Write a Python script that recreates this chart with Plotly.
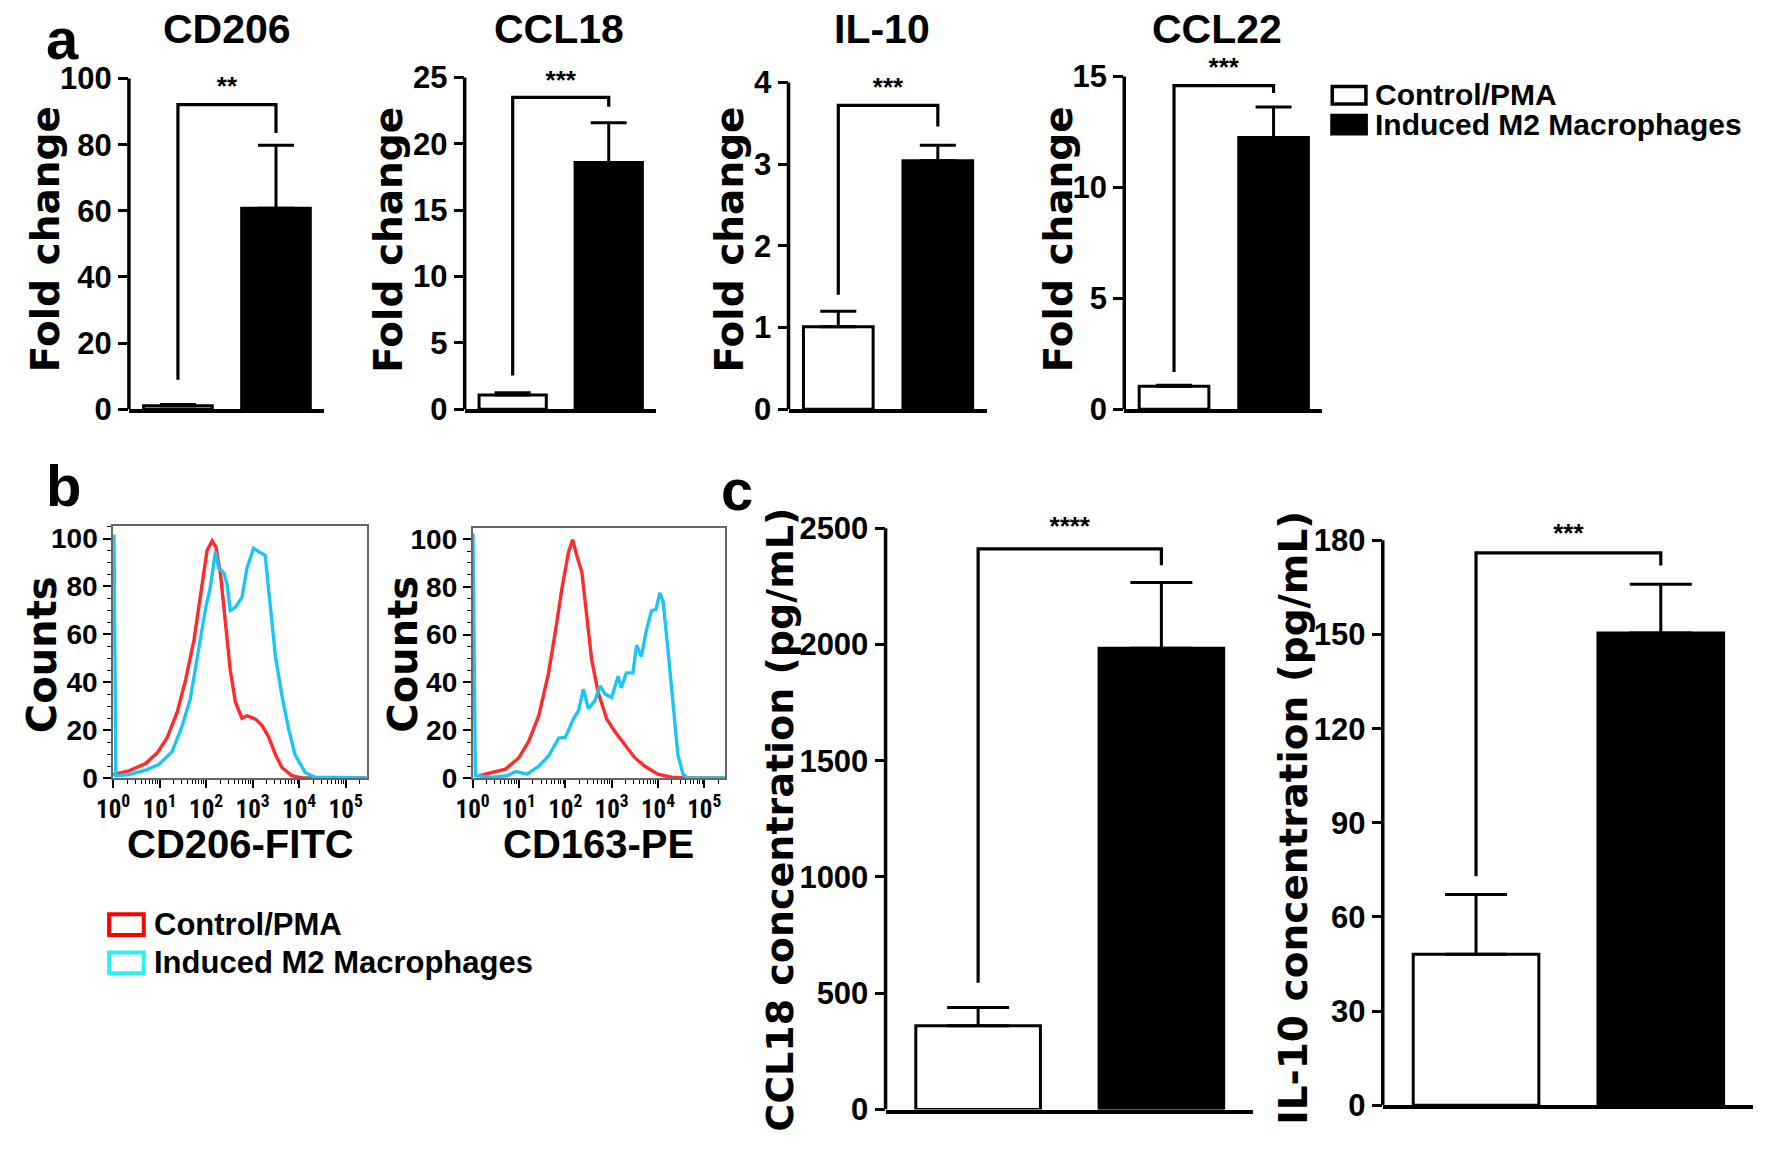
import numpy as np
import plotly.graph_objects as go

W, H = 1769, 1156

# ---------------- data ----------------
groups = ["Control/PMA", "Induced M2 Macrophages"]

# panel a: qPCR fold change
qpcr_genes = ["CD206", "CCL18", "IL-10", "CCL22"]
qpcr_mean_control = [1.0, 1.06, 1.01, 1.03]
qpcr_mean_m2 = [60.8, 18.6, 3.04, 12.25]
qpcr_sem_control = [0.4, 0.17, 0.19, 0.05]
qpcr_sem_m2 = [19.0, 3.0, 0.19, 1.38]
qpcr_ymax = [100, 25, 4, 15]
qpcr_ystep = [20, 5, 1, 5]
qpcr_sig = ["**", "***", "***", "***"]
qpcr_bracket_top = [92.1, 23.5, 3.72, 14.59]
qpcr_bracket_left = [8.9, 2.54, 1.40, 1.67]
qpcr_bracket_right = [83.5, 22.8, 3.46, 14.26]
qpcr_star_y = [97.0, 24.6, 3.92, 15.3]

# panel c: ELISA concentrations
elisa_names = ["CCL18 concentration (pg/mL)", "IL-10 concentration (pg/mL)"]
elisa_mean_control = [360, 48.1]
elisa_mean_m2 = [1983, 150.5]
elisa_sem_control = [79, 19.1]
elisa_sem_m2 = [283, 15.5]
elisa_ymax = [2500, 180]
elisa_ystep = [500, 30]
elisa_sig = ["****", "***"]
elisa_bracket_top = [2411, 176.0]
elisa_bracket_left = [545, 73.0]
elisa_bracket_right = [2340, 172.0]
elisa_star_y = [2500, 181.5]

# panel b: flow cytometry histograms (x = log10 fluorescence, y = % of max counts)
hist_names = ["CD206-FITC", "CD163-PE"]
cd206_ctrl_log = [0.0, 0.04, 0.34, 0.7, 0.95, 1.16, 1.38, 1.56, 1.74, 1.88, 2.02, 2.13, 2.21,
                  2.31, 2.41, 2.52, 2.63, 2.77, 2.88, 3.06, 3.2, 3.34, 3.49, 3.63, 3.84, 4.06, 5.45]
cd206_ctrl_cnt = [1.5, 1.6, 3, 6, 10.5, 16.7, 27.6, 41, 57.7, 76.8, 95, 99, 96.6,
                  85, 67, 45, 31.7, 25, 26, 24.6, 22, 17.3, 9.8, 4.4, 1, 0, 0]
cd206_m2_log = [0.0, 0.02, 0.06, 0.34, 0.7, 0.99, 1.27, 1.49, 1.66, 1.84, 1.99, 2.09, 2.2, 2.27,
                2.38, 2.45, 2.52, 2.63, 2.77, 2.88, 3.02, 3.13, 3.27, 3.34, 3.49, 3.63, 3.77,
                3.91, 4.13, 4.34, 5.45]
cd206_m2_cnt = [101, 101, 1, 1.4, 3.3, 5.7, 11, 22, 33, 53.6, 71, 79.5, 94.5, 87.7,
                85.7, 81, 70, 71.3, 75.4, 87.7, 96, 94.5, 93, 79.5, 50.8, 34.4, 20.8,
                9.8, 2.3, 0.3, 0]
cd163_ctrl_log = [0.14, 0.43, 0.71, 1.0, 1.21, 1.43, 1.64, 1.79, 1.93, 2.07, 2.16, 2.25, 2.36,
                  2.46, 2.57, 2.71, 2.89, 3.07, 3.29, 3.5, 3.71, 4.0, 4.29, 4.57, 5.45]
cd163_ctrl_cnt = [1, 2.3, 3.7, 8.5, 15.3, 26.2, 44, 61.7, 79.5, 94.5, 99.7, 93, 86,
                  68.6, 49.5, 35.8, 24.9, 19.4, 13.9, 8.5, 5, 1.6, 0.3, 0, 0]
cd163_m2_log = [0.0, 0.01, 0.06, 0.43, 0.75, 0.93, 1.18, 1.43, 1.64, 1.86, 2.0, 2.18, 2.29,
                2.39, 2.5, 2.64, 2.75, 2.86, 3.0, 3.14, 3.21, 3.32, 3.46, 3.54, 3.64, 3.75,
                3.86, 3.96, 4.04, 4.11, 4.21, 4.32, 4.43, 4.54, 4.64, 5.45]
cd163_m2_cnt = [101.6, 101.6, 1, 0.3, 1, 2.7, 1.6, 5, 9.2, 16.7, 17, 24.9, 28.3,
                37.2, 29, 32.4, 38.5, 35.1, 33.7, 42.6, 37.8, 44, 44, 55.6, 50.8, 61.7,
                70, 70.6, 77.5, 74, 55, 31.7, 9.8, 1.6, 0, 0]
hist_decades = [0, 1, 2, 3, 4, 5]
hist_yticks = [0, 20, 40, 60, 80, 100]

# ---------------- helpers ----------------
FONT = "Liberation Sans, Arial, Helvetica, sans-serif"
NARROW = "Liberation Sans Narrow, Arial Narrow, Roboto Condensed, DejaVu Sans Condensed, Liberation Sans, Arial, sans-serif"
WIDE = "DejaVu Sans, Verdana, sans-serif"
RED = "#FF2B2B"
CYAN = "#1DC6F2"
HEAD = 1.08  # headroom above the top tick so the stars can sit above the axis


def dx(left, right):
    return [left / W, right / W]


def dy(top, bottom):
    return [1 - bottom / H, 1 - top / H]


def px(x):
    return x / W


def py(y):
    return 1 - y / H


fig = go.Figure()
layout = {}
annotations = []
shapes = []


def bar_panel(n, ctrl, m2, sc, sm, ymax, ystep, xdom, top_px, bot_px, xr, bw, capw,
              btop, bl, br, star, stary, tick_size):
    s = "" if n == 1 else str(n)
    fig.add_trace(go.Bar(
        x=[0, 1], y=[ctrl, m2], width=bw,
        marker=dict(color=["white", "black"], line=dict(color="black", width=3)),
        error_y=dict(type="data", symmetric=False, array=[sc, sm], arrayminus=[0, 0],
                     color="black", thickness=3, width=capw),
        xaxis="x" + s, yaxis="y" + s, showlegend=False, hoverinfo="skip"))
    fig.add_trace(go.Scatter(
        x=[0, 0, 1, 1], y=[bl, btop, btop, br], mode="lines",
        line=dict(color="black", width=3.2), cliponaxis=False,
        xaxis="x" + s, yaxis="y" + s, showlegend=False, hoverinfo="skip"))
    fig.add_trace(go.Scatter(
        x=[0.5], y=[stary], mode="text", text=[star], textposition="middle center",
        textfont=dict(family=FONT, size=26, color="black", weight="bold"),
        cliponaxis=False, xaxis="x" + s, yaxis="y" + s, showlegend=False,
        hoverinfo="skip"))
    # y axis line drawn only from 0 to the top tick
    shapes.append(dict(type="line", xref="x" + s + " domain", yref="y" + s,
                       x0=0, x1=0, y0=0, y1=ymax, line=dict(color="black", width=3.5),
                       layer="above"))
    dom_top = bot_px - (bot_px - top_px) * HEAD
    layout["xaxis" + s] = dict(domain=xdom, range=xr, anchor="y" + s, showline=True,
                               linecolor="black", linewidth=3.5, showticklabels=False,
                               ticks="", showgrid=False, zeroline=False)
    layout["yaxis" + s] = dict(domain=dy(dom_top, bot_px), range=[0, ymax * HEAD],
                               anchor="x" + s, showline=False, ticks="outside",
                               ticklen=10, tickwidth=3, tickcolor="black",
                               tickvals=list(np.arange(0, ymax + ystep / 2, ystep)),
                               tickfont=dict(family=FONT, size=tick_size, color="black",
                                             weight="bold"),
                               showgrid=False, zeroline=False)


# panel a
a_x = [(113, 310), (452, 645), (779, 979), (1118, 1318)]
a_top = [76, 75, 80, 74]
for i in range(4):
    bar_panel(i + 1, qpcr_mean_control[i], qpcr_mean_m2[i], qpcr_sem_control[i],
              qpcr_sem_m2[i], qpcr_ymax[i], qpcr_ystep[i], dx(*a_x[i]), a_top[i], 413,
              [-0.5, 1.49], 0.70, 18, qpcr_bracket_top[i], qpcr_bracket_left[i],
              qpcr_bracket_right[i], qpcr_sig[i], qpcr_star_y[i], 31)

a_title_x = [212, 547, 873, 1212]
a_ylab_x = [29, 375, 719, 1052]
for i in range(4):
    annotations.append(dict(x=px(a_title_x[i]), y=py(25), xref="paper", yref="paper",
                            text=qpcr_genes[i], showarrow=False, xanchor="center",
                            yanchor="middle",
                            font=dict(family=FONT, size=41, color="black", weight="bold")))
    annotations.append(dict(x=px(a_ylab_x[i]), y=py(240), xref="paper", yref="paper",
                            text="Fold change", showarrow=False, textangle=-90,
                            xanchor="center", yanchor="middle",
                            font=dict(family=WIDE, size=39, color="black", weight="bold")))

# panel a legend
shapes.append(dict(type="rect", xref="paper", yref="paper", x0=px(1328), x1=px(1362),
                   y0=py(102), y1=py(84), line=dict(color="black", width=3.5),
                   fillcolor="white"))
shapes.append(dict(type="rect", xref="paper", yref="paper", x0=px(1327), x1=px(1363),
                   y0=py(133), y1=py(113), line=dict(color="black", width=2),
                   fillcolor="black"))
for j, yy in enumerate([92, 123]):
    annotations.append(dict(x=px(1369), y=py(yy), xref="paper", yref="paper",
                            text=groups[j], showarrow=False, xanchor="left",
                            yanchor="middle",
                            font=dict(family=FONT, size=30, color="black", weight="bold")))

# panel c
c_x = [(877, 1248), (1379, 1753)]
c_y = [(534.3, 1127), (546.7, 1122.7)]
for i in range(2):
    bar_panel(7 + i, elisa_mean_control[i], elisa_mean_m2[i], elisa_sem_control[i],
              elisa_sem_m2[i], elisa_ymax[i], elisa_ystep[i], dx(*c_x[i]), c_y[i][0],
              c_y[i][1], [-0.505, 1.5], 0.68, 31, elisa_bracket_top[i],
              elisa_bracket_left[i], elisa_bracket_right[i], elisa_sig[i],
              elisa_star_y[i], 31)
c_ylab_x = [771, 1289]
c_ylab_y = [832, 830]
c_ylab_size = [38, 39]
for i in range(2):
    annotations.append(dict(x=px(c_ylab_x[i]), y=py(c_ylab_y[i]), xref="paper", yref="paper",
                            text=elisa_names[i], showarrow=False, textangle=-90,
                            xanchor="center", yanchor="middle",
                            font=dict(family=WIDE, size=c_ylab_size[i], color="black",
                                      weight="bold")))

# panel b histograms
minor_x = [n + np.log10(k) for n in range(6) for k in range(2, 10) if n + np.log10(k) < 5.45]
hist_data = [(cd206_ctrl_log, cd206_ctrl_cnt, cd206_m2_log, cd206_m2_cnt),
             (cd163_ctrl_log, cd163_ctrl_cnt, cd163_m2_log, cd163_m2_cnt)]
b_x = [(97, 353), (460, 715)]
b_y = [(532, 789), (534, 789)]
b_yr = [105.3, 104.7]
for i in range(2):
    s = str(5 + i)
    cl, cc, ml, mc = hist_data[i]
    fig.add_trace(go.Scatter(x=cl, y=cc, mode="lines", line=dict(color=RED, width=3.4),
                             xaxis="x" + s, yaxis="y" + s, showlegend=False,
                             hoverinfo="skip"))
    fig.add_trace(go.Scatter(x=ml, y=mc, mode="lines", line=dict(color=CYAN, width=3.4),
                             xaxis="x" + s, yaxis="y" + s, showlegend=False,
                             hoverinfo="skip"))
    layout["xaxis" + s] = dict(domain=dx(*b_x[i]), range=[0, 5.45], anchor="y" + s,
                               showline=True, mirror=True, linecolor="#666666",
                               linewidth=1.5, ticks="outside", ticklen=8, tickwidth=2,
                               tickcolor="black", tickvals=hist_decades,
                               ticktext=["10<sup>%d</sup>" % d for d in hist_decades],
                               tickfont=dict(family=NARROW, size=25, color="black",
                                             weight="bold"),
                               minor=dict(tickvals=minor_x, ticks="outside", ticklen=4,
                                          tickwidth=1.2, tickcolor="black"),
                               showgrid=False, zeroline=False)
    layout["yaxis" + s] = dict(domain=dy(*b_y[i]), range=[0, b_yr[i]], anchor="x" + s,
                               showline=True, mirror=True, linecolor="#666666",
                               linewidth=1.5, ticks="outside", ticklen=8, tickwidth=2,
                               tickcolor="black", tickvals=hist_yticks,
                               tickfont=dict(family=FONT, size=28, color="black",
                                             weight="bold"),
                               minor=dict(dtick=5, ticks="outside", ticklen=4,
                                          tickwidth=1.2, tickcolor="black"),
                               showgrid=False, zeroline=False)

b_xlab_x = [226, 587]
b_ylab_x = [26, 390]
for i in range(2):
    annotations.append(dict(x=px(b_xlab_x[i]), y=py(856), xref="paper", yref="paper",
                            text=hist_names[i], showarrow=False, xanchor="center",
                            yanchor="middle",
                            font=dict(family=FONT, size=40, color="black", weight="bold")))
    annotations.append(dict(x=px(b_ylab_x[i]), y=py(663), xref="paper", yref="paper",
                            text="Counts", showarrow=False, textangle=-90,
                            xanchor="center", yanchor="middle",
                            font=dict(family=WIDE, size=40, color="black", weight="bold")))

# panel b legend
for j, (yt, yb, col) in enumerate([(928, 949, "#FF0000"), (967, 988, "#2EEFF2")]):
    shapes.append(dict(type="rect", xref="paper", yref="paper", x0=px(93), x1=px(128),
                       y0=py(yb), y1=py(yt), line=dict(color=col, width=4),
                       fillcolor="white"))
    annotations.append(dict(x=px(136), y=py((yt + yb) / 2), xref="paper", yref="paper",
                            text=groups[j], showarrow=False, xanchor="left",
                            yanchor="middle",
                            font=dict(family=FONT, size=31, color="black", weight="bold")))

# panel letters
annotations.append(dict(x=px(46), y=1.0, xref="paper", yref="paper", text="a",
                        showarrow=False, xanchor="center", yanchor="top",
                        font=dict(family=FONT, size=58, color="black", weight="bold")))
for letter, xx, yy in [("b", 47, 491), ("c", 727, 495)]:
    annotations.append(dict(x=px(xx), y=py(yy), xref="paper", yref="paper", text=letter,
                            showarrow=False, xanchor="center", yanchor="middle",
                            font=dict(family=FONT, size=58, color="black", weight="bold")))

fig.update_layout(width=W, height=H, margin=dict(l=0, r=0, t=0, b=0, pad=0),
                  paper_bgcolor="white", plot_bgcolor="white", showlegend=False,
                  annotations=annotations, shapes=shapes, **layout)

fig.write_html("out.html", config={"displayModeBar": False},
               post_script="document.body.style.margin='0';")
